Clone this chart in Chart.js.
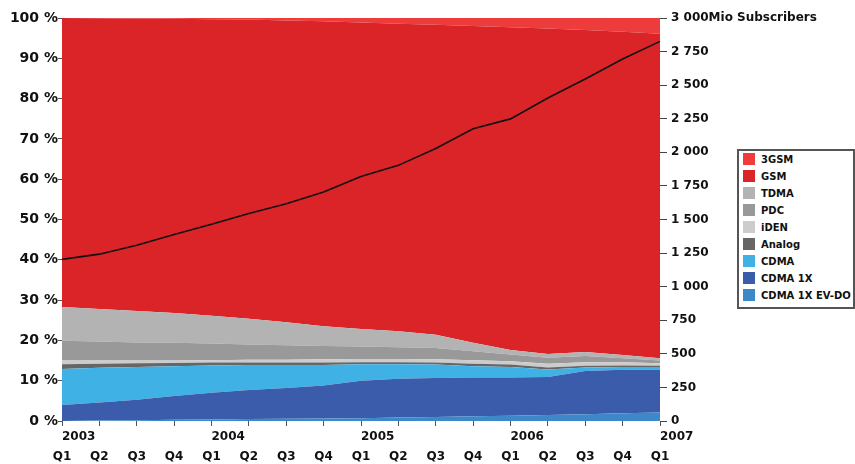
<!DOCTYPE html>
<html>
<head>
<meta charset="utf-8">
<script src="https://cdn.jsdelivr.net/npm/chart.js@4/dist/chart.umd.min.js"></script>
<style>
  body { margin: 0; background: #fff; }
  #wrap { position: relative; width: 855px; height: 464px; }
  #legend {
    position: absolute; left: 737px; top: 149px; width: 114px; height: 156px;
    border: 2px solid #555; background: #fff;
    font: bold 10px "DejaVu Sans", sans-serif; color: #111;
  }
  #legend div { height: 17px; line-height: 17px; white-space: nowrap; padding-left: 4px; }
  #legend span { display: inline-block; width: 12px; height: 12px; vertical-align: -2px; margin-right: 6px; }
</style>
</head>
<body>
<div id="wrap">
  <canvas id="chart" width="855" height="464"></canvas>
  <div id="legend"></div>
</div>
<script>
const quarters = ['Q1','Q2','Q3','Q4','Q1','Q2','Q3','Q4','Q1','Q2','Q3','Q4','Q1','Q2','Q3','Q4','Q1'];
const years = ['2003','','','','2004','','','','2005','','','','2006','','','','2007'];

// share of subscribers in %, one value per quarter (2003 Q1 .. 2007 Q1)
const evdo   = [0.0, 0.1, 0.2, 0.3, 0.4, 0.5, 0.55, 0.6, 0.7, 0.85, 1.0, 1.15, 1.3, 1.5, 1.7, 1.9, 2.1];
const cdma1x = [4.0, 4.5, 5.1, 5.9, 6.6, 7.2, 7.65, 8.2, 9.3, 9.65, 9.7, 9.65, 9.5, 9.4, 10.7, 10.8, 10.6];
const cdma   = [8.9, 8.6, 8.1, 7.4, 6.8, 6.2, 5.7, 5.1, 4.1, 3.6, 3.3, 2.8, 2.6, 1.9, 0.9, 0.7, 0.7];
const analog = [1.2, 1.0, 0.9, 0.8, 0.7, 0.6, 0.6, 0.6, 0.5, 0.5, 0.5, 0.6, 0.6, 0.5, 0.4, 0.4, 0.3];
const iden   = [0.9, 0.8, 0.7, 0.6, 0.6, 0.7, 0.7, 0.8, 0.8, 0.8, 0.8, 0.9, 0.8, 0.9, 0.9, 0.8, 0.6];
const pdc    = [4.9, 4.7, 4.5, 4.4, 4.1, 3.8, 3.6, 3.3, 3.1, 2.9, 2.8, 2.2, 1.7, 1.5, 1.5, 1.0, 0.7];
const tdma   = [8.4, 8.1, 7.8, 7.4, 6.9, 6.4, 5.7, 4.9, 4.3, 4.0, 3.3, 2.1, 1.1, 0.9, 1.0, 0.8, 0.6];
const gsm    = [71.7, 72.15, 72.6, 73.0, 73.6, 74.2, 74.9, 75.7, 76.1, 76.3, 76.9, 78.6, 80.1, 80.8, 79.9, 80.2, 80.5];
const gsm3   = [0.0, 0.05, 0.1, 0.2, 0.3, 0.4, 0.6, 0.8, 1.1, 1.4, 1.7, 2.0, 2.3, 2.6, 3.0, 3.4, 3.9];

// total subscribers, millions
const subscribers = [1203, 1242, 1309, 1388, 1465, 1544, 1618, 1705, 1820, 1903, 2029, 2175, 2249, 2405, 2546, 2695, 2826];

const layers = [
  { name: 'CDMA 1X EV-DO', data: evdo,   color: '#3d88c8' },
  { name: 'CDMA 1X',       data: cdma1x, color: '#3a5caa' },
  { name: 'CDMA',          data: cdma,   color: '#40b1e5' },
  { name: 'Analog',        data: analog, color: '#666666' },
  { name: 'iDEN',          data: iden,   color: '#cccccc' },
  { name: 'PDC',           data: pdc,    color: '#999999' },
  { name: 'TDMA',          data: tdma,   color: '#b3b3b3' },
  { name: 'GSM',           data: gsm,    color: '#db2428' },
  { name: '3GSM',          data: gsm3,   color: '#ee3b3b' }
];

const datasets = layers.map((l, i) => ({
  label: l.name,
  data: l.data,
  backgroundColor: l.color,
  borderColor: l.color,
  borderWidth: 0,
  pointRadius: 0,
  fill: i === 0 ? 'origin' : '-1',
  yAxisID: 'y',
  stack: 'share'
}));

datasets.push({
  label: 'Subscribers',
  data: subscribers,
  borderColor: '#111',
  borderWidth: 1.6,
  pointRadius: 0,
  fill: false,
  yAxisID: 'y2',
  stack: 'subs',
  order: -1
});

// html legend, top layer first
const legend = document.getElementById('legend');
layers.slice().reverse().forEach(l => {
  legend.innerHTML += `<div><span style="background:${l.color}"></span>${l.name}</div>`;
});

const axisFont = { family: 'DejaVu Sans', size: 12, weight: 'bold' };

new Chart(document.getElementById('chart'), {
  type: 'line',
  data: { labels: quarters, datasets: datasets },
  options: {
    responsive: false,
    animation: false,
    layout: { padding: { top: 18, left: 0, right: 0, bottom: 0 } },
    elements: { line: { tension: 0 } },
    plugins: { legend: { display: false }, tooltip: { enabled: false } },
    scales: {
      years: {
        type: 'category',
        labels: years,
        position: 'bottom',
        weight: 0,
        offset: false,
        border: { display: false },
        grid: { drawOnChartArea: false, drawTicks: true, tickLength: 5, color: '#555' },
        ticks: { autoSkip: false, maxRotation: 0, align: 'start', padding: 4, color: '#111', font: axisFont },
        afterFit: s => { s.height = 24; }
      },
      x: {
        position: 'bottom',
        weight: 1,
        offset: false,
        border: { display: false },
        grid: { display: false, drawTicks: false },
        ticks: { autoSkip: false, maxRotation: 0, padding: 5, color: '#111', font: axisFont },
        afterFit: s => { s.height = 19; }
      },
      y: {
        stacked: true,
        min: 0,
        max: 100,
        border: { display: false },
        grid: { drawOnChartArea: false, tickLength: 4, color: '#555' },
        ticks: {
          stepSize: 10, padding: 0, color: '#111',
          font: { family: 'DejaVu Sans', size: 14, weight: 'bold' },
          callback: v => v + ' %'
        },
        afterFit: s => { s.width = 62; }
      },
      y2: {
        position: 'right',
        min: 0,
        max: 3000,
        border: { display: false },
        grid: { drawOnChartArea: false, tickLength: 7, color: '#444' },
        ticks: {
          stepSize: 250, padding: 4, color: '#111', font: axisFont,
          callback: v => {
            const t = v >= 1000 ? Math.floor(v / 1000) + ' ' + String(v % 1000).padStart(3, '0') : String(v);
            return v === 3000 ? t + 'Mio Subscribers' : t;
          }
        },
        afterFit: s => { s.width = 195; }
      }
    }
  }
});
</script>
</body>
</html>
